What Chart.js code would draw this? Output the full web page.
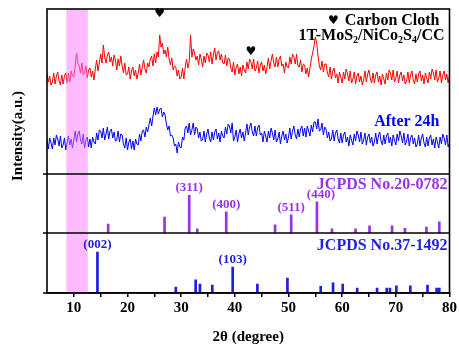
<!DOCTYPE html>
<html>
<head>
<meta charset="utf-8">
<script src="https://cdn.jsdelivr.net/npm/chart.js@4.4.1/dist/chart.umd.min.js"></script>
<style>
  html, body { margin: 0; padding: 0; background: #fff; }
</style>
</head>
<body>
<canvas id="xrdChart" width="459" height="347"></canvas>
<script>
// XRD patterns + reference stick patterns
const SERIF = '"Liberation Serif", "Times New Roman", serif';

// scan grid: 5 to 80 deg, 0.25 deg step
const scanStart = 5;
const scanStep = 0.25;

// 1T-MoS2/NiCo2S4/CC (red)
const freshScan = [
  101, 92, 98, 89, 92, 101, 90, 98, 102, 93, 89, 99, 90, 98, 101, 91, 101, 92, 103, 98,
  97, 108, 121, 111, 108, 101, 111, 99, 101, 108, 96, 104, 106, 97, 103, 94, 105, 114, 103, 111,
  120, 111, 129, 117, 111, 119, 122, 112, 117, 108, 119, 114, 104, 115, 108, 118, 108, 101, 111, 99,
  100, 107, 95, 103, 107, 98, 104, 95, 101, 110, 99, 107, 114, 105, 101, 111, 107, 115, 118, 108,
  120, 111, 122, 117, 139, 127, 131, 120, 124, 117, 127, 115, 109, 116, 104, 108, 107, 98, 104, 95,
  97, 106, 95, 106, 115, 106, 112, 139, 117, 125, 121, 114, 118, 109, 120, 115, 107, 118, 111, 121,
  119, 112, 122, 110, 119, 126, 114, 122, 123, 114, 120, 111, 110, 119, 108, 116, 115, 106, 102, 112,
  99, 107, 110, 100, 107, 98, 109, 104, 101, 112, 105, 115, 112, 105, 115, 103, 106, 113, 101, 109,
  112, 103, 109, 100, 107, 116, 105, 113, 120, 111, 107, 117, 107, 115, 118, 108, 110, 101, 112, 107,
  106, 117, 110, 120, 117, 110, 120, 108, 107, 114, 102, 110, 109, 100, 106, 97, 106, 115, 121, 128,
  137, 131, 118, 108, 104, 113, 102, 110, 110, 101, 97, 107, 95, 103, 106, 96, 100, 91, 102, 97,
  91, 102, 95, 105, 100, 93, 103, 91, 95, 102, 90, 98, 101, 92, 98, 89, 94, 103, 92, 100,
  104, 95, 91, 101, 91, 99, 102, 92, 98, 89, 100, 95, 90, 101, 94, 104, 101, 94, 104, 92,
  96, 103, 91, 99, 102, 93, 99, 90, 93, 102, 91, 99, 103, 94, 90, 100, 92, 100, 103, 93,
  99, 90, 101, 96, 91, 102, 95, 105, 101, 94, 104, 92, 96, 103, 91, 99, 103, 94, 100, 91,
  99
];

// after 24h (blue)
const agedScan = [
  34, 25, 36, 31, 25, 36, 29, 39, 35, 28, 38, 26, 29, 36, 24, 32, 38, 29, 35, 26,
  34, 43, 32, 40, 43, 34, 30, 40, 26, 34, 37, 27, 35, 26, 37, 32, 30, 41, 34, 44,
  43, 36, 46, 34, 40, 47, 35, 43, 45, 36, 42, 33, 34, 43, 32, 40, 39, 30, 26, 36,
  24, 32, 35, 25, 33, 24, 35, 30, 29, 40, 33, 43, 44, 37, 47, 42, 49, 56, 48, 58,
  66, 59, 67, 60, 65, 66, 57, 62, 59, 50, 44, 48, 38, 39, 36, 28, 30, 21, 32, 27,
  26, 37, 34, 46, 48, 41, 51, 39, 44, 51, 39, 47, 45, 36, 42, 33, 34, 43, 32, 40,
  45, 36, 32, 42, 34, 42, 45, 35, 41, 32, 43, 38, 36, 47, 40, 50, 48, 41, 51, 33,
  37, 44, 32, 40, 45, 36, 42, 33, 41, 50, 39, 47, 51, 42, 38, 48, 38, 46, 49, 39,
  41, 32, 43, 38, 32, 43, 36, 46, 41, 34, 44, 32, 35, 42, 30, 38, 43, 34, 40, 31,
  37, 46, 35, 43, 48, 39, 35, 45, 37, 45, 48, 38, 46, 37, 48, 43, 38, 49, 42, 52,
  52, 45, 55, 43, 44, 51, 39, 47, 45, 36, 42, 33, 35, 44, 33, 41, 44, 35, 31, 41,
  31, 39, 42, 32, 37, 28, 39, 34, 29, 40, 33, 43, 39, 32, 42, 30, 34, 41, 29, 37,
  40, 31, 37, 28, 32, 41, 30, 38, 42, 33, 29, 39, 30, 38, 41, 31, 37, 28, 39, 34,
  29, 40, 33, 43, 38, 31, 41, 29, 33, 40, 28, 36, 39, 30, 36, 27, 30, 39, 28, 36,
  40, 31, 27, 37, 28, 36, 39, 29, 35, 26, 37, 32, 26, 37, 30, 40, 36, 29, 39, 27,
  31
];

// JCPDS No.20-0782 (NiCo2S4)
const niCoPos = [16.4, 26.9, 31.5, 33.0, 38.4, 47.5, 50.5, 55.3, 58.1, 62.5, 65.1, 69.3, 71.7, 75.7, 78.1];
const niCoInt = [15, 27, 64, 7, 36, 14, 31, 53, 7, 7, 12, 12, 8, 10, 19];
const niCoHkl = ['(311)', '(400)', '(511)', '(440)'];
const niCoHklAt = [31.5, 38.4, 50.5, 55.3];

// JCPDS No.37-1492 (MoS2)
const mosPos = [14.4, 29.0, 32.7, 33.5, 35.8, 39.6, 44.2, 49.8, 56.0, 58.3, 60.1, 62.8, 66.5, 68.3, 68.9, 70.1, 72.7, 75.9, 77.6, 78.1];
const mosInt = [68, 10, 22, 15, 13, 43, 15, 25, 11, 17, 15, 8, 8, 8, 8, 12, 12, 13, 8, 8];
const mosHkl = ['(002)', '(103)'];
const mosHklAt = [14.4, 39.6];

// carbon cloth markers and highlighted region
const heartAt = [26, 43];
const heartLevel = [160, 122];
const bandRange = [8.6, 12.6];

const xTicks = [10, 20, 30, 40, 50, 60, 70, 80];

const PURPLE = '#9a32e6';
const STICK_BLUE = '#1f1fe0';

function toPoints(ys) {
    return ys.map((y, i) => ({ x: scanStart + i * scanStep, y: y }));
}
function toSticks(xs, ys) {
    return xs.map((x, i) => ({ x: x, y: ys[i] }));
}

function drawRich(ctx, parts, xRight, y, size, color) {
    const big = `bold ${size}px ${SERIF}`;
    const small = `bold ${Math.round(size * 0.62)}px ${SERIF}`;
    let w = 0;
    parts.forEach(([t, sub]) => { ctx.font = sub ? small : big; w += ctx.measureText(t).width; });
    let x = xRight - w;
    ctx.textAlign = 'left';
    ctx.fillStyle = color;
    parts.forEach(([t, sub]) => {
        ctx.font = sub ? small : big;
        ctx.fillText(t, x, sub ? y + size * 0.3 : y);
        x += ctx.measureText(t).width;
    });
}

const decorPlugin = {
    id: 'decor',
    afterDatasetsDraw(chart) {
        const { ctx, chartArea: a, scales } = chart;
        const xs = scales.x, yTop = scales.yTop, yMid = scales.yMid, yBot = scales.yBot;
        ctx.save();

        // pink band over the low-angle region
        const b0 = xs.getPixelForValue(bandRange[0]);
        const b1 = xs.getPixelForValue(bandRange[1]);
        ctx.fillStyle = 'rgba(255, 120, 255, 0.5)';
        ctx.fillRect(b0, a.top, b1 - b0, a.bottom - a.top);

        // frame and panel separators
        ctx.strokeStyle = '#000';
        ctx.lineWidth = 1.6;
        ctx.strokeRect(a.left, a.top, a.right - a.left, a.bottom - a.top);
        ctx.beginPath();
        [yMid.top, yBot.top].forEach(y => {
            ctx.moveTo(a.left, y);
            ctx.lineTo(a.right, y);
        });
        [yMid.top, yBot.top, a.bottom].forEach(y => {
            ctx.moveTo(a.left - 4, y);
            ctx.lineTo(a.left, y);
        });
        ctx.stroke();

        // carbon cloth hearts
        ctx.fillStyle = '#000';
        ctx.textAlign = 'center';
        ctx.textBaseline = 'middle';
        ctx.font = '12px "DejaVu Sans"';
        heartAt.forEach((h, i) => {
            ctx.fillText('\u2665', xs.getPixelForValue(h), yTop.getPixelForValue(heartLevel[i]));
        });

        // legend texts in the top panel
        ctx.font = `bold 16px ${SERIF}`;
        ctx.textAlign = 'right';
        ctx.fillText('Carbon Cloth', a.right - 10, a.top + 12);
        const cw = ctx.measureText('Carbon Cloth').width;
        ctx.font = '12px "DejaVu Sans"';
        ctx.fillText('\u2665', a.right - 10 - cw - 6, a.top + 12);
        ctx.textBaseline = 'middle';
        drawRich(ctx, [['1T-MoS', 0], ['2', 1], ['/NiCo', 0], ['2', 1], ['S', 0], ['4', 1], ['/CC', 0]],
            a.right - 5, a.top + 27, 16, '#000');
        ctx.font = `bold 16px ${SERIF}`;
        ctx.textAlign = 'right';
        ctx.fillStyle = '#0000ff';
        ctx.fillText('After 24h', a.right - 10, a.top + 113);

        // reference card labels
        ctx.fillStyle = PURPLE;
        ctx.fillText('JCPDS No.20-0782', a.right - 2, yMid.top + 11);
        ctx.fillStyle = STICK_BLUE;
        ctx.fillText('JCPDS No.37-1492', a.right - 2, yBot.top + 13);

        ctx.font = `bold 13px ${SERIF}`;
        ctx.textAlign = 'center';
        ctx.textBaseline = 'bottom';
        ctx.fillStyle = PURPLE;
        niCoHkl.forEach((t, i) => {
            const x = niCoHklAt[i];
            const h = niCoInt[niCoPos.indexOf(x)];
            const shift = t === '(440)' ? 4 : 0;
            ctx.fillText(t, xs.getPixelForValue(x) + shift, yMid.getPixelForValue(h) - 1);
        });
        ctx.fillStyle = STICK_BLUE;
        mosHkl.forEach((t, i) => {
            const x = mosHklAt[i];
            const h = mosInt[mosPos.indexOf(x)];
            ctx.fillText(t, xs.getPixelForValue(x), yBot.getPixelForValue(h) - 1);
        });

        // axis titles
        ctx.fillStyle = '#000';
        ctx.font = `bold 15px ${SERIF}`;
        ctx.textBaseline = 'middle';
        ctx.fillText('2\u03b8 (degree)', (a.left + a.right) / 2, a.bottom + 44);
        ctx.translate(18, 136);
        ctx.rotate(-Math.PI / 2);
        ctx.fillText('Intensity(a.u.)', 0, 0);
        ctx.restore();
    }
};

function hiddenY(weight, max) {
    return {
        type: 'linear',
        position: 'left',
        stack: 'xrd',
        stackWeight: weight,
        min: 0,
        max: max,
        offset: false,
        ticks: { display: false },
        grid: { display: false },
        border: { display: false },
        afterFit: s => { s.width = 0; }
    };
}

new Chart(document.getElementById('xrdChart'), {
    type: 'line',
    data: {
        datasets: [
            {
                label: '1T-MoS2/NiCo2S4/CC',
                data: toPoints(freshScan),
                yAxisID: 'yTop',
                borderColor: '#ff0000',
                borderWidth: 1,
                pointRadius: 0,
                tension: 0
            },
            {
                label: 'After 24h',
                data: toPoints(agedScan),
                yAxisID: 'yTop',
                borderColor: '#0000ff',
                borderWidth: 1,
                pointRadius: 0,
                tension: 0
            },
            {
                type: 'bar',
                label: 'JCPDS No.20-0782',
                data: toSticks(niCoPos, niCoInt),
                yAxisID: 'yMid',
                backgroundColor: PURPLE,
                barThickness: 2,
                grouped: false
            },
            {
                type: 'bar',
                label: 'JCPDS No.37-1492',
                data: toSticks(mosPos, mosInt),
                yAxisID: 'yBot',
                backgroundColor: STICK_BLUE,
                barThickness: 2,
                grouped: false
            }
        ]
    },
    options: {
        responsive: false,
        animation: false,
        layout: { padding: { left: 47, top: 9, right: 7, bottom: 0 } },
        plugins: {
            legend: { display: false },
            tooltip: { enabled: false }
        },
        scales: {
            x: {
                type: 'linear',
                min: 5,
                max: 80,
                offset: false,
                afterBuildTicks: s => {
                    const t = [];
                    for (let v = 15; v <= 75; v += 10) t.push({ value: v });
                    s.ticks = xTicks.map(v => ({ value: v })).concat(t).sort((p, q) => p.value - q.value);
                },
                ticks: {
                    color: '#000',
                    padding: 2,
                    maxRotation: 0,
                    autoSkip: false,
                    font: { family: SERIF, size: 15, weight: 'bold' },
                    callback: v => (xTicks.includes(v) ? v : '')
                },
                grid: {
                    drawOnChartArea: false,
                    drawTicks: true,
                    tickLength: 4,
                    color: '#000',
                    lineWidth: 1.5,
                    offset: false
                },
                border: { display: true, color: '#000', width: 1.6 },
                afterFit: s => { s.height = 54; }
            },
            // stacked panels: first listed ends up at the bottom
            yBot: hiddenY(60, 100),
            yMid: hiddenY(59, 100),
            yTop: hiddenY(165, 165)
        }
    },
    plugins: [decorPlugin]
});
</script>
</body>
</html>
